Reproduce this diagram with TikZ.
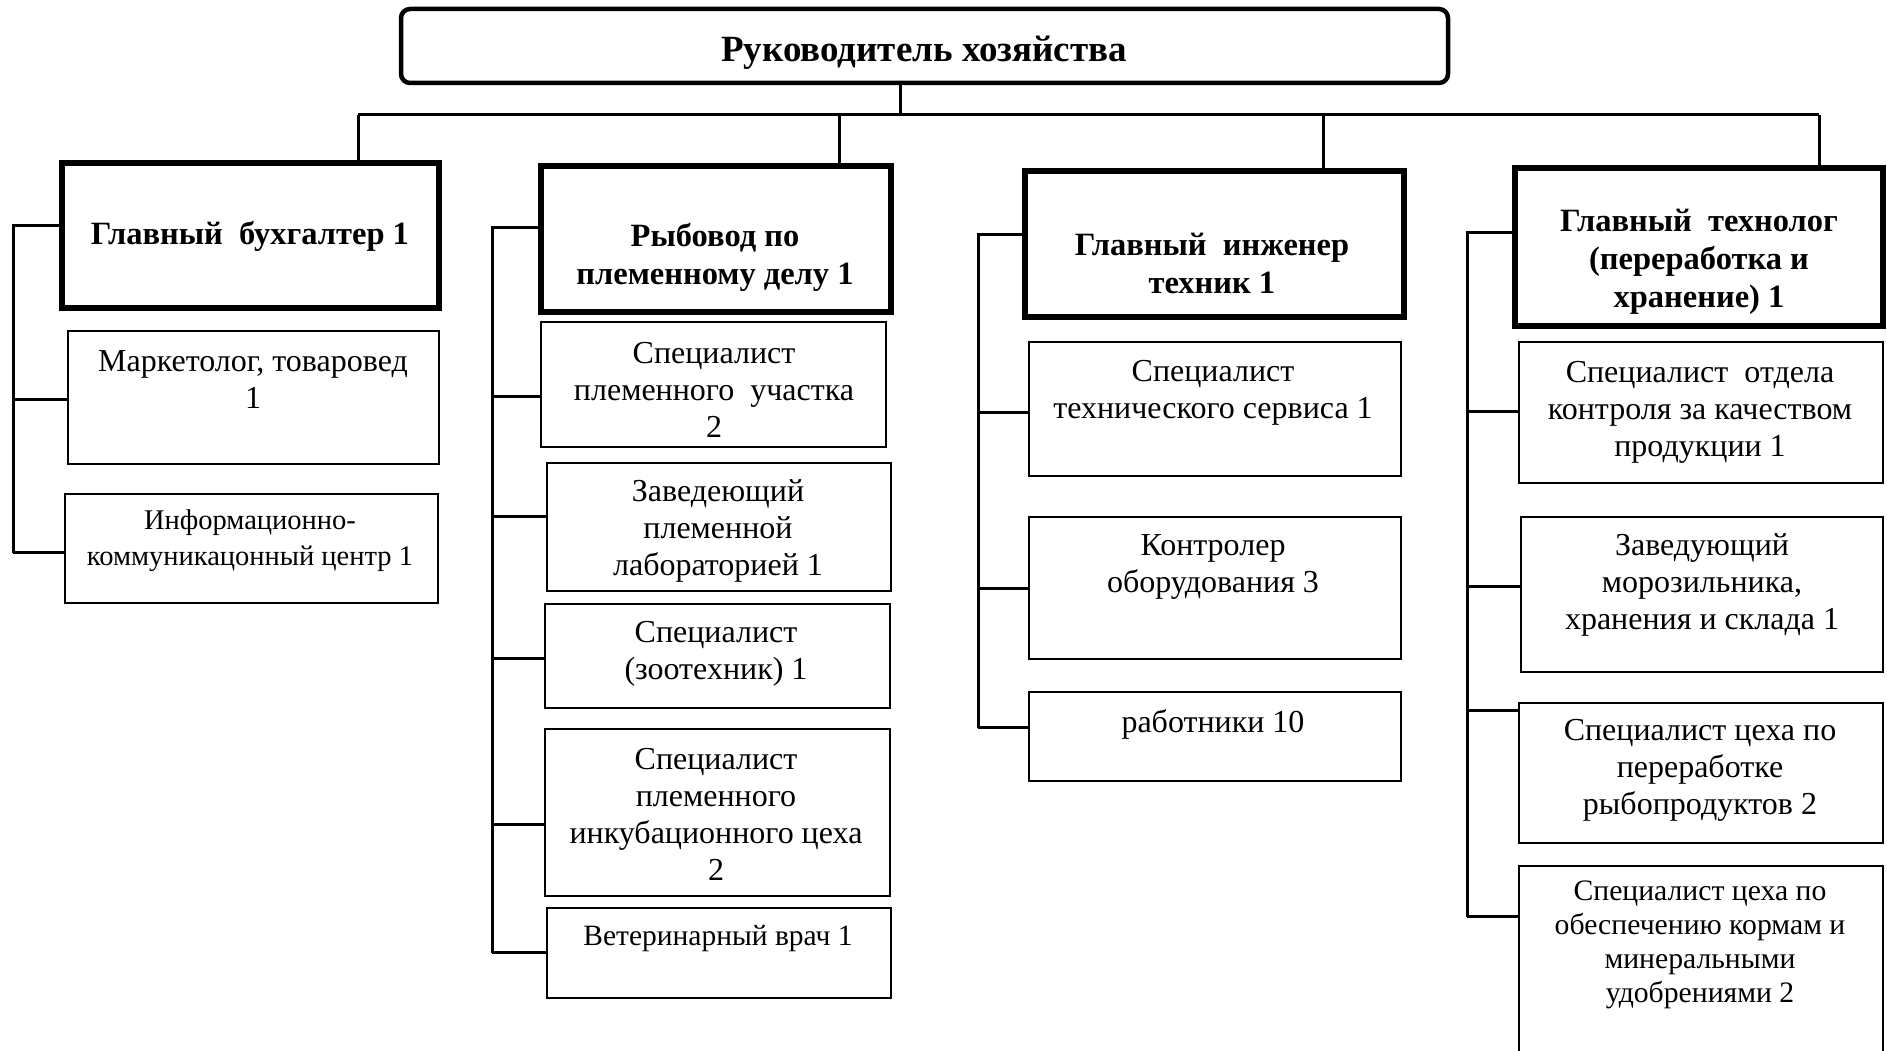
\documentclass[tikz,border=0pt]{standalone}
\usepackage{fontspec}
\setmainfont{Liberation Serif}
\usetikzlibrary{calc,fit,positioning}

\newcommand{\normtext}{\fontsize{32}{37}\selectfont}
\newcommand{\kleintext}{\fontsize{28.5}{36}\selectfont}
\newcommand{\kopftext}{\bfseries\fontsize{32.5}{38}\selectfont}

\tikzset{
  leiterbox/.style={draw, line width=4.5pt, rounded corners=9pt, inner sep=0pt},
  chefbox/.style={draw, line width=5.5pt, inner sep=0pt},
  stellebox/.style={draw, line width=2.8pt, inner sep=0pt},
  linie/.style={line width=3pt},
  beschr/.style={align=center, inner sep=0pt, font=\normtext},
  kopf/.style={align=center, inner sep=0pt, font=\kopftext},
}

\begin{document}
\begin{tikzpicture}[x=1pt, y=-1pt]
        % Rahmen
        \useasboundingbox (0,0) rectangle (1887,1051);
        \clip (0,0) rectangle (1887,1051);

        % Leiter
        \node[leiterbox, fit={(401,9) (1448,83)}] (leiter) {};
        \node[kopf, font=\bfseries\fontsize{37}{40}\selectfont] (leitert) at (924,53) {Руководитель хозяйства};

        % Abteilungsleiter
        \node[chefbox, fit={(62,163) (439,308)}] (buch) {};
        \node[chefbox, fit={(541,166) (891,312)}] (ryb) {};
        \node[chefbox, fit={(1025,171) (1404,317)}] (ing) {};
        \node[chefbox, fit={(1515,168) (1883,326)}] (tech) {};

        \node[kopf] (bucht) at (250,236) {Главный\ \ бухгалтер 1};
        \node[kopf] (rybt) at (715,257) {Рыбовод по\\племенному делу 1};
        \node[kopf] (ingt) at (1212,263) {Главный\ \ инженер\\техник 1};
        \node[kopf] (techt) at (1699,262) {Главный\ \ технолог\\(переработка и\\хранение) 1};

        % Spalte 1
        \node[stellebox, fit={(68,331) (439,464)}] (m1) {};
        \node[stellebox, fit={(65,494) (438,603)}] (m2) {};
        \node[beschr] (m1t) at (253,380) {Маркетолог, товаровед\\1};
        \node[beschr, font=\kleintext] (m2t) at (250,541) {Информационно-\\коммуникацонный центр 1};

        % Spalte 2
        \node[stellebox, fit={(541,322) (886,447)}] (s1) {};
        \node[stellebox, fit={(547,463) (891,591)}] (s2) {};
        \node[stellebox, fit={(545,604) (890,708)}] (s3) {};
        \node[stellebox, fit={(545,729) (890,896)}] (s4) {};
        \node[stellebox, fit={(547,908) (891,998)}] (s5) {};
        \node[beschr] (s1t) at (714,390) {Специалист\\племенного\ \ участка\\2};
        \node[beschr] (s2t) at (718,531) {Заведеющий\\племенной\\лабораторией 1};
        \node[beschr] (s3t) at (716,654) {Специалист\\(зоотехник) 1};
        \node[beschr] (s4t) at (716,814) {Специалист\\племенного\\инкубационного цеха\\2};
        \node[beschr, font=\fontsize{29.5}{36}\selectfont] (s5t) at (718,939) {Ветеринарный врач 1};

        % Spalte 3
        \node[stellebox, fit={(1029,342) (1401,476)}] (t1) {};
        \node[stellebox, fit={(1029,517) (1401,659)}] (t2) {};
        \node[stellebox, fit={(1029,692) (1401,781)}] (t3) {};
        \node[beschr] (t1t) at (1213,393) {Специалист\\технического сервиса 1};
        \node[beschr] (t2t) at (1213,567) {Контролер\\оборудования 3};
        \node[beschr] (t3t) at (1213,724) {работники 10};

        % Spalte 4
        \node[stellebox, fit={(1519,342) (1883,483)}] (u1) {};
        \node[stellebox, fit={(1521,517) (1883,672)}] (u2) {};
        \node[stellebox, fit={(1519,703) (1883,843)}] (u3) {};
        \node[stellebox, fit={(1519,866) (1883,1080)}] (u4) {};
        \node[beschr] (u1t) at (1700,412) {Специалист\ \ отдела\\контроля за качеством\\продукции 1};
        \node[beschr] (u2t) at (1702,585) {Заведующий\\морозильника,\\хранения и склада 1};
        \node[beschr] (u3t) at (1700,770) {Специалист цеха по\\переработке\\рыбопродуктов 2};
        \node[beschr, font=\fontsize{29.7}{34}\selectfont] (u4t) at (1700,945) {Специалист цеха по\\обеспечению кормам и\\минеральными\\удобрениями 2};

        % Schiene oben
        \coordinate (l) at ($(leiter.south)+(-24,0)$);
        \coordinate (b1) at (358,115);
        \coordinate (b2) at (839,115);
        \coordinate (b3) at (1323,115);
        \coordinate (b4) at (1819,115);
        \draw[linie] (l) -- (l |- b1);
        \draw[linie] (b1) -- (b4);
        \foreach \k/\b in {b1/buch, b2/ryb, b3/ing, b4/tech}
            \draw[linie] (\k) -- (\k |- \b.north);

        % Anschlusspunkte
        \foreach \b/\d in {buch/65, ryb/64, ing/66, tech/67,
                           m1/70, m2/60,
                           s1/76, s2/55, s3/56, s4/97, s5/46,
                           t1/72, t2/73, t3/37,
                           u1/71, u2/71, u3/9, u4/52}
            \coordinate (\b-a) at ($(\b.north west)+(0,\d)$);

        % Senkrechte Linien
        \coordinate (v1) at (13,0);
        \coordinate (v2) at (492,0);
        \coordinate (v3) at (978,0);
        \coordinate (v4) at (1467,0);
        \draw[linie] (buch-a) -- (v1 |- buch-a) -- (v1 |- m2-a);
        \draw[linie] (ryb-a) -- (v2 |- ryb-a) -- (v2 |- s5-a);
        \draw[linie] (ing-a) -- (v3 |- ing-a) -- (v3 |- t3-a);
        \draw[linie] (tech-a) -- (v4 |- tech-a) -- (v4 |- u4-a);

        % Abzweige
        \foreach \b in {m1, m2}
            \draw[linie] (v1 |- \b-a) -- (\b-a);
        \foreach \b in {s1, s2, s3, s4, s5}
            \draw[linie] (v2 |- \b-a) -- (\b-a);
        \foreach \b in {t1, t2, t3}
            \draw[linie] (v3 |- \b-a) -- (\b-a);
        \foreach \b in {u1, u2, u3, u4}
            \draw[linie] (v4 |- \b-a) -- (\b-a);

\end{tikzpicture}
\end{document}
